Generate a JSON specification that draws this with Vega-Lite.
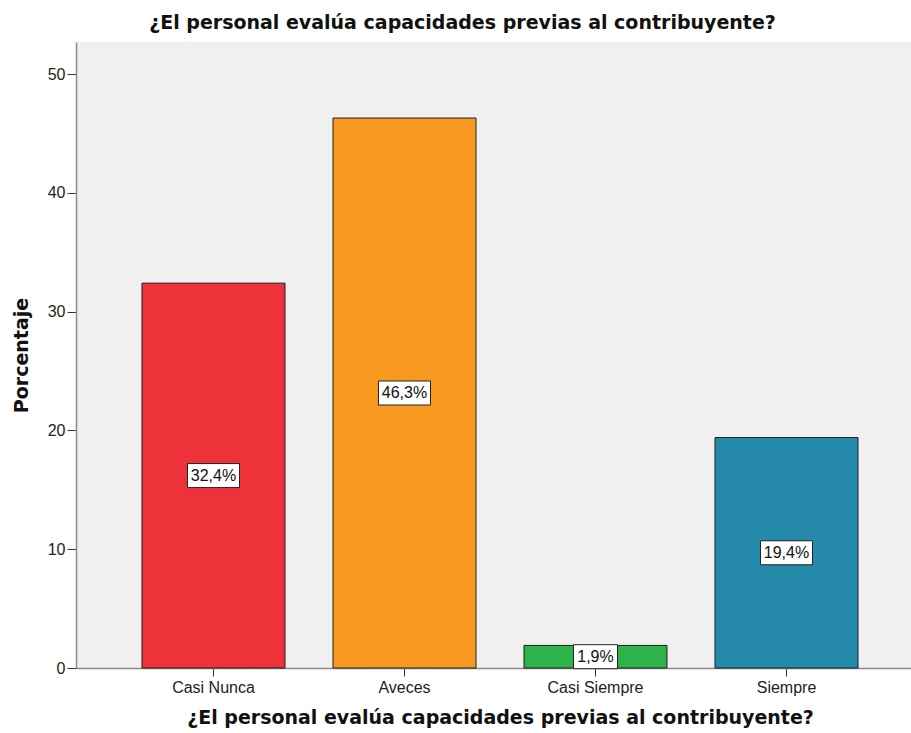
{
  "$schema": "https://vega.github.io/schema/vega-lite/v6.json",
  "autosize": {"type": "none"},
  "width": 835,
  "height": 626,
  "padding": {"left": 76, "top": 42, "right": 0, "bottom": 65},
  "background": "white",
  "title": {
    "text": "¿El personal evalúa capacidades previas al contribuyente?",
    "font": "DejaVu Sans",
    "fontSize": 19,
    "fontWeight": "bold",
    "color": "#111111",
    "anchor": "middle",
    "offset": 9,
    "dx": -31
  },
  "config": {
    "view": {"fill": "#F0F0F0", "stroke": null},
    "axis": {"grid": false}
  },
  "data": {
    "values": [
      {"cat": "Casi Nunca", "v": 32.4, "label": "32,4%"},
      {"cat": "Aveces", "v": 46.3, "label": "46,3%"},
      {"cat": "Casi Siempre", "v": 1.9, "label": "1,9%"},
      {"cat": "Siempre", "v": 19.4, "label": "19,4%"}
    ]
  },
  "transform": [
    {"calculate": "datum.v / 2", "as": "mid"},
    {"calculate": "datum.v / 2 - 1.01", "as": "lo"},
    {"calculate": "datum.v / 2 + 1.01", "as": "hi"}
  ],
  "encoding": {
    "x": {
      "field": "cat",
      "type": "nominal",
      "sort": ["Casi Nunca", "Aveces", "Casi Siempre", "Siempre"],
      "scale": {"range": [0, 848], "paddingInner": 0.2513, "paddingOuter": 0.3455},
      "axis": {
        "title": "¿El personal evalúa capacidades previas al contribuyente?",
        "titleFont": "DejaVu Sans",
        "titleFontSize": 19,
        "titleFontWeight": "bold",
        "titleColor": "#111111",
        "titlePadding": 13,
        "labelAngle": 0,
        "labelFont": "Liberation Sans",
        "labelFontSize": 16,
        "labelColor": "#222222",
        "labelPadding": 3,
        "tickColor": "#333333",
        "tickSize": 8,
        "domainColor": "#8a8a8a",
        "domainWidth": 1.5
      }
    }
  },
  "layer": [
    {
      "mark": {"type": "bar", "stroke": "#1e1e1e", "strokeWidth": 1},
      "encoding": {
        "y": {
          "field": "v",
          "type": "quantitative",
          "scale": {"domain": [0, 52.7], "nice": false},
          "axis": {
            "title": "Porcentaje",
            "titleFont": "DejaVu Sans",
            "titleFontSize": 19,
            "titleFontWeight": "bold",
            "titleColor": "#111111",
            "titlePadding": 16,
            "values": [0, 10, 20, 30, 40, 50],
            "labelFont": "Liberation Sans",
            "labelFontSize": 16,
            "labelColor": "#222222",
            "labelPadding": 2,
            "tickColor": "#333333",
            "tickSize": 9,
            "domainColor": "#8a8a8a",
            "domainWidth": 1.5
          }
        },
        "color": {
          "field": "cat",
          "type": "nominal",
          "scale": {
            "domain": ["Casi Nunca", "Aveces", "Casi Siempre", "Siempre"],
            "range": ["#EE3239", "#F7991F", "#2DB34A", "#2589AA"]
          },
          "legend": null
        }
      }
    },
    {
      "transform": [{"filter": "length(datum.label) == 5"}],
      "mark": {"type": "bar", "width": 52, "fill": "white", "stroke": "#222222", "strokeWidth": 1},
      "encoding": {
        "y": {"field": "lo", "type": "quantitative"},
        "y2": {"field": "hi"}
      }
    },
    {
      "transform": [{"filter": "length(datum.label) == 4"}],
      "mark": {"type": "bar", "width": 44, "fill": "white", "stroke": "#222222", "strokeWidth": 1},
      "encoding": {
        "y": {"field": "lo", "type": "quantitative"},
        "y2": {"field": "hi"}
      }
    },
    {
      "mark": {"type": "text", "font": "Liberation Sans", "fontSize": 16, "color": "#111111", "baseline": "middle", "align": "center"},
      "encoding": {
        "y": {"field": "mid", "type": "quantitative"},
        "text": {"field": "label"}
      }
    }
  ]
}
